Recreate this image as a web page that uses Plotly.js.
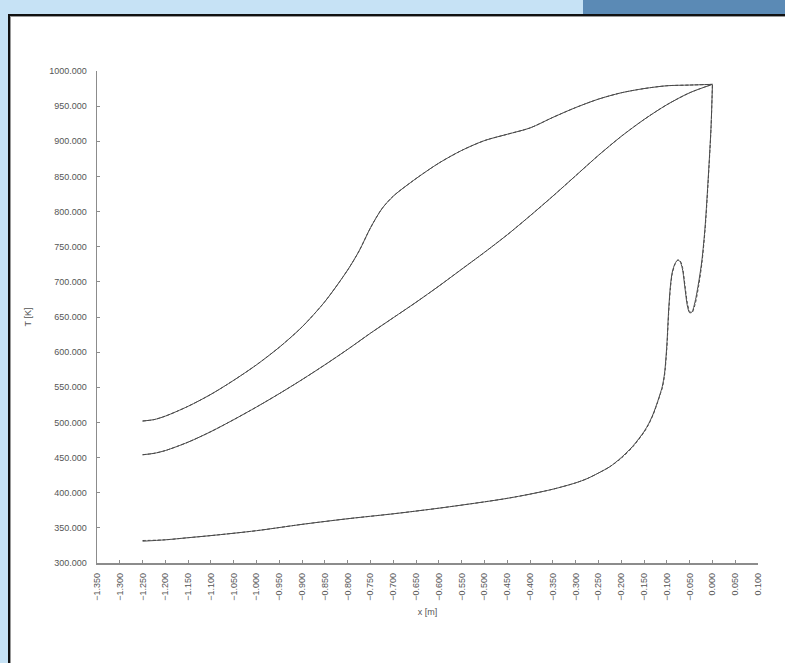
<!DOCTYPE html>
<html>
<head>
<meta charset="utf-8">
<script src="https://cdn.plot.ly/plotly-3.0.1.min.js"></script>
<style>
  html, body { margin: 0; padding: 0; width: 785px; height: 663px; overflow: hidden; background: #c6e2f5; }
  #tab { position: absolute; left: 583px; top: 0; width: 202px; height: 14px; background: #5b8ab5; }
  #panel { position: absolute; left: 8px; top: 14px; width: 785px; height: 660px; background: #ffffff;
           border-left: 2px solid #111; border-top: 2px solid #111; box-shadow: inset 1px 1px 0 #999; }
  #chart { position: absolute; left: 0; top: 0; width: 785px; height: 663px; }
</style>
</head>
<body>
<div id="tab"></div>
<div id="panel"></div>
<div id="chart"></div>
<script>
// ---- data ----
const xA = [-1.25, -1.225, -1.20, -1.15, -1.10, -1.05, -1.00, -0.95, -0.90, -0.85, -0.80, -0.775, -0.75, -0.725, -0.70, -0.65, -0.60, -0.55, -0.50, -0.45, -0.40, -0.35, -0.30, -0.25, -0.20, -0.15, -0.10, -0.05, 0.00];
const tA = [502, 504, 509, 523, 540, 560, 582, 607, 636, 672, 717, 744, 777, 804, 822, 847, 869, 887, 901, 910, 919, 934, 948, 960, 969, 975, 979, 980, 981];

const xB = [-1.25, -1.225, -1.20, -1.15, -1.10, -1.05, -1.00, -0.95, -0.90, -0.85, -0.80, -0.75, -0.70, -0.65, -0.60, -0.55, -0.50, -0.45, -0.40, -0.35, -0.30, -0.25, -0.20, -0.15, -0.10, -0.05, 0.00];
const tB = [454, 456, 460, 472, 487, 504, 522, 541, 561, 582, 604, 627, 649, 671, 694, 718, 742, 767, 794, 822, 851, 880, 907, 931, 952, 969, 981];

const xC = [-1.25, -1.20, -1.15, -1.10, -1.00, -0.90, -0.80, -0.70, -0.60, -0.50, -0.45, -0.40, -0.35, -0.30, -0.275, -0.25, -0.225, -0.20, -0.175, -0.15, -0.14, -0.13, -0.12, -0.115, -0.11, -0.105, -0.10, -0.096, -0.092, -0.088, -0.082, -0.076, -0.071, -0.066, -0.06, -0.055, -0.05, -0.045, -0.038, -0.03, -0.023, -0.016, -0.009, -0.003, 0.00];
const tC = [331, 333, 336, 339, 346, 355, 363, 370, 378, 387, 392, 398, 405, 414, 420, 428, 437, 450, 466, 487, 498, 512, 530, 540, 551, 570, 610, 660, 695, 714, 726, 731, 729, 719, 690, 666, 656, 657, 672, 700, 731, 779, 850, 921, 980];
// dashed companion of curve C (slightly offset in the bump region)
const xCd = [-1.25, -1.20, -1.15, -1.10, -1.00, -0.90, -0.80, -0.70, -0.60, -0.50, -0.45, -0.40, -0.35, -0.30, -0.275, -0.25, -0.225, -0.20, -0.175, -0.15, -0.14, -0.13, -0.12, -0.115, -0.11, -0.105, -0.10, -0.096, -0.092, -0.088, -0.082, -0.076, -0.071, -0.066, -0.06, -0.055, -0.05, -0.045, -0.038, -0.03, -0.023, -0.016, -0.009, -0.003, 0.00];
const tCd = [332, 333, 336, 339, 346, 355, 363, 370, 378, 387, 392, 398, 405, 414, 420, 428, 437, 449, 465, 486, 497, 511, 529, 539, 549, 567, 605, 655, 692, 712, 725, 731, 730, 722, 694, 670, 658, 656, 668, 695, 727, 775, 846, 919, 980];

const xTickVals = [-1.35, -1.30, -1.25, -1.20, -1.15, -1.10, -1.05, -1.00, -0.95, -0.90, -0.85, -0.80, -0.75, -0.70, -0.65, -0.60, -0.55, -0.50, -0.45, -0.40, -0.35, -0.30, -0.25, -0.20, -0.15, -0.10, -0.05, 0.00, 0.05, 0.10];
const xTickText = ["\u22121.350", "\u22121.300", "\u22121.250", "\u22121.200", "\u22121.150", "\u22121.100", "\u22121.050", "\u22121.000", "\u22120.950", "\u22120.900", "\u22120.850", "\u22120.800", "\u22120.750", "\u22120.700", "\u22120.650", "\u22120.600", "\u22120.550", "\u22120.500", "\u22120.450", "\u22120.400", "\u22120.350", "\u22120.300", "\u22120.250", "\u22120.200", "\u22120.150", "\u22120.100", "\u22120.050", "0.000", "0.050", "0.100"];
const yTickVals = [300, 350, 400, 450, 500, 550, 600, 650, 700, 750, 800, 850, 900, 950, 1000];
const yTickText = ["300.000", "350.000", "400.000", "450.000", "500.000", "550.000", "600.000", "650.000", "700.000", "750.000", "800.000", "850.000", "900.000", "950.000", "1000.000"];

const lineCol = '#4a4a4a';
const solid = {color: lineCol, width: 1};
const dashed = {color: lineCol, width: 1, dash: '3px,2px'};

const traces = [
  {x: xA, y: tA, mode: 'lines', line: solid},
  {x: xA, y: tA, mode: 'lines', line: dashed},
  {x: xB, y: tB, mode: 'lines', line: solid},
  {x: xB, y: tB, mode: 'lines', line: dashed},
  {x: xC, y: tC, mode: 'lines', line: solid},
  {x: xCd, y: tCd, mode: 'lines', line: dashed}
];
traces.forEach(t => { t.line = Object.assign({shape: 'spline', smoothing: 0.8}, t.line); t.hoverinfo = 'skip'; t.showlegend = false; });

const tickFont = {family: 'Liberation Sans, Arial, sans-serif', size: 9, color: '#555555'};
const axisCol = '#8c8c8c';

const layout = {
  width: 785, height: 663,
  paper_bgcolor: 'rgba(0,0,0,0)', plot_bgcolor: 'rgba(0,0,0,0)',
  margin: {l: 97, r: 27, t: 71, b: 100},
  showlegend: false,
  xaxis: {
    range: [-1.35, 0.1], tickmode: 'array', tickvals: xTickVals, ticktext: xTickText,
    tickangle: -90, tickfont: tickFont, ticks: 'inside', ticklen: 3, tickcolor: axisCol,
    showline: true, linecolor: axisCol, linewidth: 1.5, showgrid: false, zeroline: false,
    ticklabelstandoff: 5,
    title: {text: 'x [m]', font: tickFont, standoff: 9}
  },
  yaxis: {
    range: [300, 1000], tickmode: 'array', tickvals: yTickVals, ticktext: yTickText,
    tickfont: tickFont, ticks: 'inside', ticklen: 3, tickcolor: axisCol,
    showline: true, linecolor: axisCol, linewidth: 1.5, showgrid: false, zeroline: false,
    ticklabelstandoff: 7,
    title: {text: 'T [K]', font: tickFont, standoff: 16}
  }
};

Plotly.newPlot('chart', traces, layout, {staticPlot: true, displayModeBar: false});
</script>
</body>
</html>
